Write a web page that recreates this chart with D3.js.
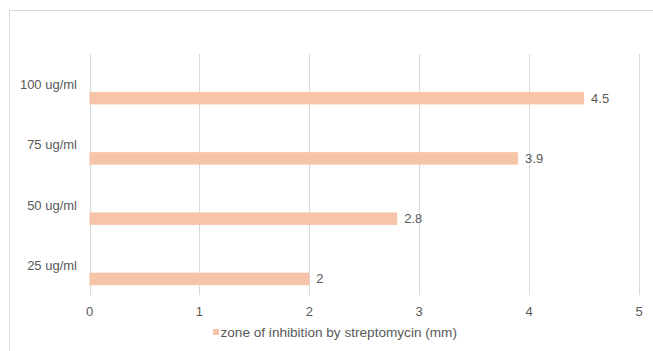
<!DOCTYPE html>
<html><head><meta charset="utf-8">
<script src="https://cdn.jsdelivr.net/npm/d3@7"></script>
<style>body{margin:0;background:#fff}svg{display:block}text{font-family:"Liberation Sans",Arial,sans-serif;fill:#595959}</style>
</head><body>
<script>
const categories = ["100 ug/ml","75 ug/ml","50 ug/ml","25 ug/ml"];
const values = [4.5,3.9,2.8,2];
const xTicks = [0,1,2,3,4,5];
const seriesName = "zone of inhibition by streptomycin (mm)";

const W=653,H=351;
const svg=d3.select("body").append("svg").attr("width",W).attr("height",H);
svg.append("rect").attr("x",9.5).attr("y",10.5).attr("width",700).attr("height",400)
  .attr("fill","#fff").attr("stroke","#d9d9d9");

const x=d3.scaleLinear().domain([0,5]).range([89.5,639]);
const y=d3.scaleBand().domain(categories).range([54,295]);

const g=svg.append("g");
g.selectAll("line.grid").data(xTicks).join("line")
  .attr("x1",d=>Math.round(x(d))+0.5).attr("x2",d=>Math.round(x(d))+0.5)
  .attr("y1",54).attr("y2",295).attr("stroke","#d9d9d9").attr("stroke-width",1);

const bw=12.5;
g.selectAll("rect.bar").data(values).join("rect")
  .attr("x",x(0)).attr("y",(d,i)=>y(categories[i])+y.bandwidth()/2+7.8)
  .attr("width",d=>x(d)-x(0)).attr("height",bw).attr("fill","#f5c4a9");

g.selectAll("text.val").data(values).join("text")
  .attr("x",d=>x(d)+7).attr("y",(d,i)=>y(categories[i])+y.bandwidth()/2+7.8+bw/2)
  .attr("dy","0.35em").attr("font-size",13).text(d=>d);

g.selectAll("text.cat").data(categories).join("text")
  .attr("x",77).attr("y",d=>y(d)+y.bandwidth()/2+0.5).attr("dy","0.35em")
  .attr("text-anchor","end").attr("font-size",13).text(d=>d);

g.selectAll("text.tick").data(xTicks).join("text")
  .attr("x",d=>x(d)).attr("y",311.5).attr("dy","0.35em")
  .attr("text-anchor","middle").attr("font-size",13).text(d=>d);

const lg=svg.append("g");
lg.append("rect").attr("x",213).attr("y",329).attr("width",6).attr("height",6).attr("fill","#f5c4a9");
lg.append("text").attr("x",220.5).attr("y",332).attr("dy","0.35em").attr("font-size",13.6).text(seriesName);
</script>
</body></html>
